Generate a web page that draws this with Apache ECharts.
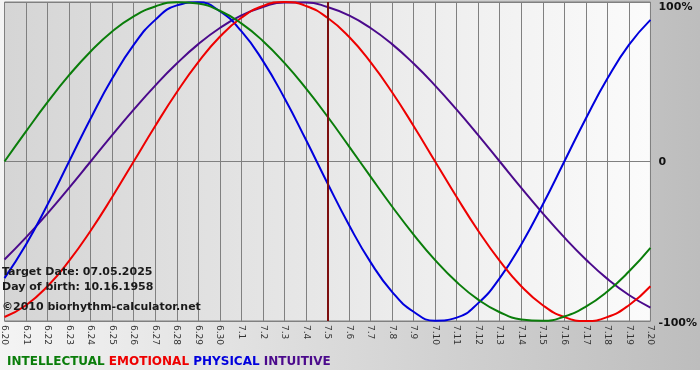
<!DOCTYPE html>
<html>
<head>
<meta charset="utf-8">
<script src="https://cdn.jsdelivr.net/npm/echarts@6/dist/echarts.min.js"></script>
<style>
html,body{margin:0;padding:0;background:#ffffff;}
#chart{width:700px;height:380px;}
</style>
</head>
<body>
<div id="chart"></div>
<script>
// Categories (days)
var days = ['6.20','6.21','6.22','6.23','6.24','6.25','6.26','6.27','6.28','6.29','6.30',
  '7.1','7.2','7.3','7.4','7.5','7.6','7.7','7.8','7.9','7.10','7.11','7.12','7.13','7.14',
  '7.15','7.16','7.17','7.18','7.19','7.20'];

// Series values (%)
var intellectual = [0,18.9,37.2,54.1,69.0,81.5,91.0,97.2,99.9,99.0,94.5,86.6,75.6,61.8,45.8,28.2,9.5,-9.5,-28.2,-45.8,-61.8,-75.6,-86.6,-94.5,-99.0,-99.9,-97.2,-91.0,-81.5,-69.0,-54.1];
var emotional = [-97.5,-90.1,-78.2,-62.3,-43.4,-22.3,0,22.3,43.4,62.3,78.2,90.1,97.5,100,97.5,90.1,78.2,62.3,43.4,22.3,0,-22.3,-43.4,-62.3,-78.2,-90.1,-97.5,-100,-97.5,-90.1,-78.2];
var physical = [-73.1,-52.0,-27.0,0,27.0,52.0,73.1,88.8,97.9,99.8,94.2,81.7,63.1,39.8,13.6,-13.6,-39.8,-63.1,-81.7,-94.2,-99.8,-97.9,-88.8,-73.1,-52.0,-27.0,0,27.0,52.0,73.1,88.8];
var intuitive = [-61.4,-47.6,-32.5,-16.5,0,16.5,32.5,47.6,61.4,73.6,83.7,91.6,96.9,99.7,99.7,96.9,91.6,83.7,73.6,61.4,47.6,32.5,16.5,0,-16.5,-32.5,-47.6,-61.4,-73.6,-83.7,-91.6];

// Y tick labels
var yTickLabels = {'100':'100%','0':'0','-100':'-100%'};

var targetDay = '7.5';
var infoLines = ['Target Date: 07.05.2025','Day of birth: 10.16.1958','\u00A92010 biorhythm-calculator.net'];
var legendNames = ['INTELLECTUAL','EMOTIONAL','PHYSICAL','INTUITIVE'];

var colors = {
  intellectual:'#0a7d0a',
  emotional:'#ee0000',
  physical:'#0000dd',
  intuitive:'#4b0a8c'
};

var chart = echarts.init(document.getElementById('chart'));

function lineSeries(name, data, color, extra){
  var s = {
    name:name, type:'line', data:data, smooth:0.5, showSymbol:false,
    lineStyle:{color:color,width:2}, itemStyle:{color:color}, silent:true, animation:false
  };
  if(extra){ for(var k in extra){ s[k]=extra[k]; } }
  return s;
}

var infoFont = 'bold 11px "DejaVu Sans"';
var legFont = 'bold 12px "DejaVu Sans"';

var option = {
  animation:false,
  backgroundColor:{
    type:'linear', x:0, y:0, x2:1, y2:0,
    colorStops:[{offset:0,color:'#f4f4f4'},{offset:1,color:'#bdbdbd'}]
  },
  grid:{
    left:0, right:49, top:2, bottom:59, show:true,
    borderColor:'#808080', borderWidth:1,
    backgroundColor:{
      type:'linear', x:0, y:0, x2:1, y2:0,
      colorStops:[{offset:0,color:'#d5d5d5'},{offset:1,color:'#fbfbfb'}]
    }
  },
  xAxis:{
    type:'category', data:days, boundaryGap:false,
    axisLine:{show:true,lineStyle:{color:'#808080',width:1}},
    axisTick:{show:true,length:3,interval:0,lineStyle:{color:'#808080'}},
    splitLine:{show:true,interval:0,lineStyle:{color:'#808080',width:1}},
    axisLabel:{show:true,interval:0,rotate:-90,margin:4,fontSize:9,
      fontFamily:'DejaVu Sans',color:'#333333'}
  },
  yAxis:{
    type:'value', position:'right', min:-100, max:100, interval:100,
    axisLine:{show:false},
    axisTick:{show:false},
    splitLine:{show:true,lineStyle:{color:'#808080',width:1}},
    axisLabel:{show:true,margin:8,fontSize:11,fontWeight:'bold',fontFamily:'DejaVu Sans',
      color:'#111111',
      formatter:function(v){
        var t = yTickLabels[String(v)];
        if(v===100) return '{top|'+t+'}';
        if(v===-100) return '{bot|'+t+'}';
        return '{mid|'+t+'}';
      },
      rich:{
        top:{fontSize:11,fontWeight:'bold',fontFamily:'DejaVu Sans',color:'#111',padding:[10,0,0,0]},
        mid:{fontSize:11,fontWeight:'bold',fontFamily:'DejaVu Sans',color:'#111',padding:[2,0,0,0]},
        bot:{fontSize:11,fontWeight:'bold',fontFamily:'DejaVu Sans',color:'#111',padding:[4,0,0,0]}
      }
    }
  },
  series:[
    lineSeries(legendNames[3], intuitive, colors.intuitive, {
      markLine:{silent:true,symbol:'none',animation:false,
        label:{show:false},
        lineStyle:{color:'#7d0f0f',width:2,type:'solid'},
        data:[{xAxis:targetDay}]}
    }),
    lineSeries(legendNames[2], physical, colors.physical),
    lineSeries(legendNames[1], emotional, colors.emotional),
    lineSeries(legendNames[0], intellectual, colors.intellectual)
  ],
  graphic:[
    {type:'rect', left:0, top:370, shape:{width:700,height:10}, style:{fill:'#ffffff'}, silent:true, z:0},
    {type:'text', left:2, top:267, z:100, style:{text:infoLines[0], font:infoFont, fill:'#1a1a1a'}},
    {type:'text', left:2, top:282, z:100, style:{text:infoLines[1], font:infoFont, fill:'#1a1a1a'}},
    {type:'text', left:2, top:302, z:100, style:{text:infoLines[2], font:infoFont, fill:'#1a1a1a'}},
    {type:'text', left:7, top:356, z:100, style:{
      text:'{a|'+legendNames[0]+'} {b|'+legendNames[1]+'} {c|'+legendNames[2]+'} {d|'+legendNames[3]+'}',
      font:legFont,
      rich:{
        a:{fill:colors.intellectual,font:legFont},
        b:{fill:colors.emotional,font:legFont},
        c:{fill:colors.physical,font:legFont},
        d:{fill:colors.intuitive,font:legFont}
      }
    }}
  ]
};
chart.setOption(option);
</script>
</body>
</html>
